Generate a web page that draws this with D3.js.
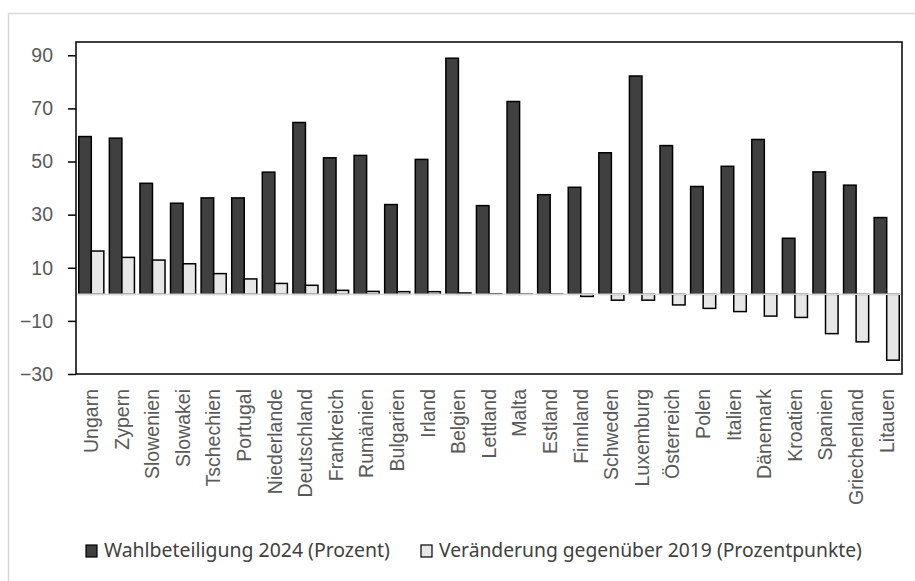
<!DOCTYPE html>
<html><head><meta charset="utf-8">
<script src="https://cdn.jsdelivr.net/npm/d3@7"></script>
<style>body{margin:0;background:#fff}svg{display:block}</style>
</head><body><svg id="c" width="915" height="581"></svg>
<script>
const categories = ["Ungarn","Zypern","Slowenien","Slowakei","Tschechien","Portugal","Niederlande","Deutschland","Frankreich","Rumänien","Bulgarien","Irland","Belgien","Lettland","Malta","Estland","Finnland","Schweden","Luxemburg","Österreich","Polen","Italien","Dänemark","Kroatien","Spanien","Griechenland","Litauen"];
const turnout2024 = [59.4,58.8,41.8,34.3,36.3,36.3,46.0,64.7,51.4,52.3,33.8,50.8,88.9,33.4,72.6,37.5,40.3,53.3,82.2,56.0,40.6,48.2,58.3,21.1,46.1,41.1,28.9];
const change2019 = [16.3,13.9,12.9,11.5,7.8,5.8,4.1,3.4,1.5,1.1,1.0,1.0,0.5,0.2,0.1,0.1,-0.8,-2.2,-2.2,-4.0,-5.3,-6.5,-8.2,-8.7,-14.8,-17.9,-24.8];
const yTicks = [-30,-10,10,30,50,70,90];
const seriesNames = ["Wahlbeteiligung 2024 (Prozent)","Veränderung gegenüber 2019 (Prozentpunkte)"];
const seriesColors = ["#404040","#e7e7e7"];

const svg = d3.select("#c");
const L=76, R=902, T=42, B=374;
const axisFont = "'Liberation Sans',Arial,sans-serif";

// outer frame
svg.append("path").attr("d","M8.5,581 V13.5 H915").attr("fill","none").attr("stroke","#d9d9d9").attr("stroke-width",1.5);

const x = d3.scaleBand().domain(categories).range([L,R]).paddingInner(0.18).paddingOuter(0.09);
const xs = d3.scaleBand().domain([0,1]).range([0,x.bandwidth()]);
const y = d3.scaleLinear().domain([-30,95]).range([B,T]);

// y axis
const ya = svg.append("g").attr("transform",`translate(${L},0)`)
  .call(d3.axisLeft(y).tickValues(yTicks).tickSize(8).tickPadding(15));
ya.attr("font-size",null).attr("font-family",null);
ya.select(".domain").remove();
ya.selectAll("line").attr("stroke","#000").attr("stroke-width",1.5);
ya.selectAll("text").attr("fill","#595959").attr("font-family",axisFont).attr("font-size",19.5);

const data = [turnout2024, change2019];
data.forEach((vals,si)=>{
  svg.append("g").selectAll("rect").data(vals).join("rect")
    .attr("x",(d,i)=>x(categories[i])+xs(si))
    .attr("width",xs.bandwidth())
    .attr("y",d=>y(Math.max(0,d)))
    .attr("height",d=>Math.abs(y(d)-y(0)))
    .attr("fill",seriesColors[si]).attr("stroke","#000").attr("stroke-width",1.5);
});
// zero line
svg.append("line").attr("x1",L).attr("x2",R).attr("y1",y(0)).attr("y2",y(0)).attr("stroke","#d9d9d9").attr("stroke-width",1.5);

// plot frame
svg.append("rect").attr("x",L).attr("y",T).attr("width",R-L).attr("height",B-T).attr("fill","none").attr("stroke","#000").attr("stroke-width",1.5);

// x labels
const xa = svg.append("g").attr("transform",`translate(0,${B})`).call(d3.axisBottom(x).tickSize(0).tickPadding(0));
xa.attr("font-size",null).attr("font-family",null);
xa.select(".domain").remove();
xa.selectAll("text").attr("fill","#595959").attr("font-family",axisFont).attr("font-size",19.5)
  .attr("transform","rotate(-90)").attr("text-anchor","end").attr("x",-15).attr("y",0).attr("dy","0.35em");

// legend
const leg = [{sx:86, tx:104, w:286},{sx:421, tx:439, w:423}];
leg.forEach((l,i)=>{
  svg.append("rect").attr("x",l.sx).attr("y",545).attr("width",11).attr("height",12)
    .attr("fill",seriesColors[i]).attr("stroke","#000").attr("stroke-width",1.2);
  const t = svg.append("text").attr("x",l.tx).attr("y",557).attr("fill","#404040")
    .attr("font-family","'Noto Sans',sans-serif").attr("font-size",17).text(seriesNames[i]);
  const w = t.node().getComputedTextLength();
  t.attr("font-size",(17*l.w/w).toFixed(2));
});
</script></body></html>
